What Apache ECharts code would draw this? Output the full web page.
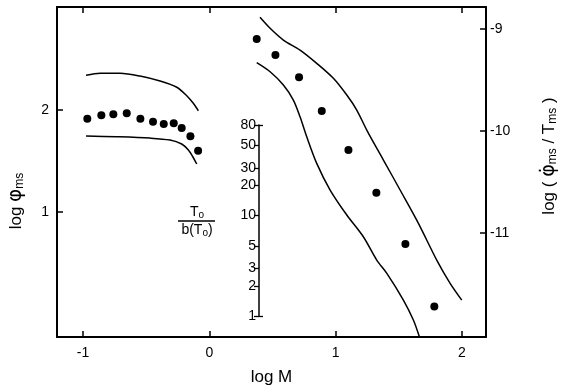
<!DOCTYPE html>
<html>
<head>
<meta charset="utf-8">
<script src="https://cdn.jsdelivr.net/npm/echarts@6/dist/echarts.min.js"></script>
<style>html,body{margin:0;padding:0;background:#fff}#c{width:570px;height:391px}</style>
</head>
<body>
<div id="c"></div>
<script>
// ---- data ----
// left cluster: log M vs log phi_ms (left axis)
const leftDots = [[-0.966,1.915],[-0.855,1.948],[-0.760,1.958],[-0.654,1.968],[-0.546,1.915],[-0.446,1.885],[-0.361,1.863],[-0.282,1.870],[-0.219,1.824],[-0.150,1.742],[-0.089,1.601]];
const leftUpper = [[-0.976,2.340],[-0.865,2.360],[-0.707,2.360],[-0.549,2.333],[-0.390,2.284],[-0.258,2.223],[-0.179,2.140],[-0.127,2.066],[-0.087,1.993]];
const leftLower = [[-0.976,1.745],[-0.733,1.738],[-0.470,1.725],[-0.311,1.706],[-0.219,1.667],[-0.166,1.608],[-0.131,1.542],[-0.100,1.471]];
// right cluster: log M vs log(phi_dot/T_ms) (right axis)
const rightDots = [[0.375,-9.098],[0.523,-9.255],[0.710,-9.473],[0.890,-9.804],[1.101,-10.186],[1.322,-10.605],[1.552,-11.108],[1.781,-11.719]];
const rightUpper = [[0.401,-8.885],[0.481,-8.993],[0.586,-9.108],[0.718,-9.206],[0.850,-9.336],[0.982,-9.483],[1.088,-9.647],[1.167,-9.794],[1.246,-9.990],[1.378,-10.284],[1.510,-10.578],[1.655,-10.905],[1.800,-11.265],[1.906,-11.493],[1.998,-11.657]];
const rightLower = [[0.375,-9.330],[0.481,-9.419],[0.586,-9.549],[0.665,-9.696],[0.718,-9.860],[0.771,-10.056],[0.850,-10.317],[0.956,-10.578],[1.088,-10.823],[1.219,-11.036],[1.325,-11.265],[1.405,-11.395],[1.536,-11.657],[1.615,-11.853],[1.662,-12.015]];
// tick labels
const xTicks = [-1, 0, 1, 2];
const leftTicks = [1, 2];
const rightTicks = [-11, -10, -9];
const innerTicks = [1, 2, 3, 5, 10, 20, 30, 50, 80];
const innerEnds = [1, 80];
// axis ranges
const xRange = [-1.206, 2.19];
const leftRange = [-0.225, 3.01];
const rightRange = [-12.019, -8.784];

const FONT = 'Liberation Sans';
const black = '#000';
const chart = echarts.init(document.getElementById('c'), null, {renderer: 'canvas'});

const lineS = (name, data, yi) => ({
  name, type: 'line', data, xAxisIndex: 0, yAxisIndex: yi, smooth: 0.3,
  showSymbol: false, symbol: 'none', lineStyle: {color: black, width: 1.5, opacity: 1}, clip: true, silent: true
});
const dotS = (name, data, yi) => ({
  name, type: 'scatter', data, xAxisIndex: 0, yAxisIndex: yi, symbol: 'circle', symbolSize: 8,
  itemStyle: {color: black, opacity: 1}, silent: true
});

const innerLog = innerTicks.map(v => Math.log10(v));
const innerEndLog = innerEnds.map(v => Math.log10(v));

chart.setOption({
  animation: false,
  backgroundColor: '#fff',
  textStyle: {fontFamily: FONT},
  grid: [
    {left: 57, top: 7, right: 84, bottom: 54, containLabel: false},
    {left: 259, top: 125, width: 20, height: 191, containLabel: false}
  ],
  xAxis: [
    {type: 'value', gridIndex: 0, position: 'bottom', min: xRange[0], max: xRange[1],
     name: 'log M', nameLocation: 'middle', nameGap: 32,
     nameTextStyle: {fontFamily: FONT, fontSize: 17, color: black},
     axisLine: {show: true, onZero: false, lineStyle: {color: black, width: 2}},
     axisTick: {show: true, inside: true, length: 6, lineStyle: {color: black, width: 1.5}, customValues: xTicks},
     axisLabel: {show: true, customValues: xTicks, margin: 9, fontFamily: FONT, fontSize: 14, color: black,
       formatter: v => String(Math.round(v))},
     splitLine: {show: false}},
    {type: 'value', gridIndex: 0, position: 'top', min: xRange[0], max: xRange[1],
     axisLine: {show: true, onZero: false, lineStyle: {color: black, width: 2}},
     axisTick: {show: true, inside: true, length: 6, lineStyle: {color: black, width: 1.5}, customValues: xTicks},
     axisLabel: {show: false}, splitLine: {show: false}},
    {type: 'value', gridIndex: 1, show: false, min: 0, max: 1}
  ],
  yAxis: [
    {type: 'value', gridIndex: 0, position: 'left', min: leftRange[0], max: leftRange[1],
     axisLine: {show: true, onZero: false, lineStyle: {color: black, width: 2}},
     axisTick: {show: true, inside: true, length: 6, lineStyle: {color: black, width: 1.5}, customValues: leftTicks},
     axisLabel: {show: true, customValues: leftTicks, margin: 8, fontFamily: FONT, fontSize: 14, color: black,
       formatter: v => String(Math.round(v))},
     splitLine: {show: false}},
    {type: 'value', gridIndex: 0, position: 'right', min: rightRange[0], max: rightRange[1],
     axisLine: {show: true, onZero: false, lineStyle: {color: black, width: 2}},
     axisTick: {show: true, inside: true, length: 6, lineStyle: {color: black, width: 1.5}, customValues: rightTicks},
     axisLabel: {show: true, customValues: rightTicks, margin: 4, fontFamily: FONT, fontSize: 14, color: black,
       formatter: v => '-' + String(Math.abs(Math.round(v)))},
     splitLine: {show: false}},
    {type: 'value', gridIndex: 1, position: 'left', min: 0, max: Math.log10(80),
     axisLine: {show: true, onZero: false, lineStyle: {color: black, width: 1.5}},
     axisTick: {show: true, inside: false, length: 5, lineStyle: {color: black, width: 1.3}, customValues: innerLog},
     axisLabel: {show: true, customValues: innerLog, margin: 3, fontFamily: FONT, fontSize: 14, color: black,
       formatter: v => String(Math.round(Math.pow(10, v)))},
     splitLine: {show: false}},
    {type: 'value', gridIndex: 1, position: 'left', offset: 0, min: 0, max: Math.log10(80),
     axisLine: {show: false},
     axisTick: {show: true, inside: true, length: 4, lineStyle: {color: black, width: 1.3}, customValues: innerEndLog},
     axisLabel: {show: false}, splitLine: {show: false}}
  ],
  series: [
    lineS('left upper bound', leftUpper, 0),
    lineS('left lower bound', leftLower, 0),
    dotS('log phi_ms', leftDots, 0),
    lineS('right upper bound', rightUpper, 1),
    lineS('right lower bound', rightLower, 1),
    dotS('log(phi_dot/T_ms)', rightDots, 1)
  ],
  graphic: [
    {type: 'text', x: 16, y: 201, rotation: Math.PI / 2,
     style: {text: 'log {p|φ}{s|ms}', fontFamily: FONT, fontSize: 17, fill: black, align: 'center', verticalAlign: 'middle',
       rich: {p: {fontFamily: 'DejaVu Sans', fontSize: 20, fill: black}, s: {fontSize: 12, fill: black, padding: [8, 0, 0, 0]}}}},
    {type: 'text', x: 549, y: 156, rotation: Math.PI / 2,
     style: {text: 'log ( {p|φ̇}{s|ms} / T{s|ms} )', fontFamily: FONT, fontSize: 17, fill: black, align: 'center', verticalAlign: 'middle',
       rich: {p: {fontFamily: 'DejaVu Sans', fontSize: 19, fill: black}, s: {fontSize: 12, fill: black, padding: [8, 0, 0, 0]}}}},
    {type: 'text', x: 197, y: 212,
     style: {text: 'T{s|o}', fontFamily: FONT, fontSize: 14, fill: black, align: 'center', verticalAlign: 'middle',
       rich: {s: {fontSize: 10, fill: black, padding: [6, 0, 0, 0]}}}},
    {type: 'line', shape: {x1: 178, y1: 221, x2: 215, y2: 221}, style: {stroke: black, lineWidth: 1.3}},
    {type: 'text', x: 197, y: 230,
     style: {text: 'b(T{s|o})', fontFamily: FONT, fontSize: 14, fill: black, align: 'center', verticalAlign: 'middle',
       rich: {s: {fontSize: 10, fill: black, padding: [6, 0, 0, 0]}}}}
  ]
});
</script>
</body>
</html>
